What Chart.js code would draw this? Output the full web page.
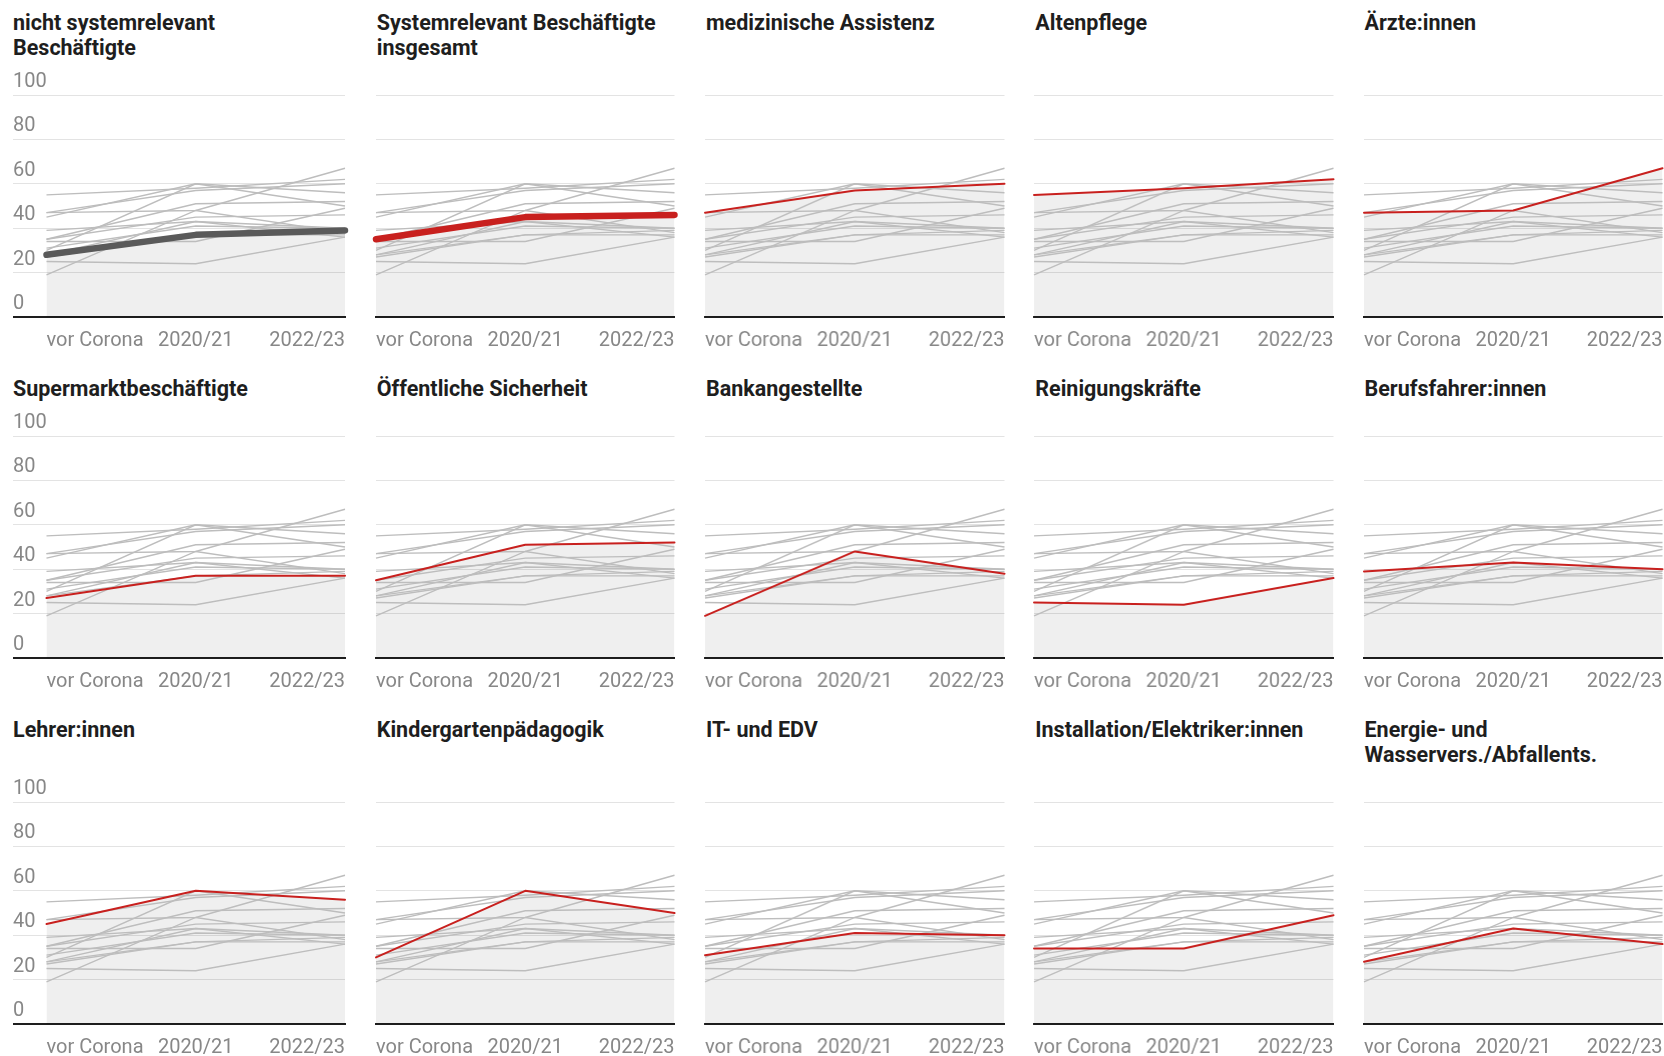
<!DOCTYPE html>
<html lang="de">
<head>
<meta charset="utf-8">
<script src="https://cdn.jsdelivr.net/npm/chart.js@4.4.1/dist/chart.umd.min.js"></script>
<style>
html,body{margin:0;padding:0;background:#fff;overflow:hidden;width:1664px;height:1056px;}
.title{position:absolute;font-family:Roboto,'Noto Sans',sans-serif;font-weight:700;font-size:21.5px;line-height:25px;color:#1e1e1e;white-space:nowrap;}
.box{position:absolute;}
</style>
</head>
<body>
<script>
// ---- data ----
const xLabels = ['vor Corona', '2020/21', '2022/23'];
const yTicks = [0, 20, 40, 60, 80, 100];

const panelTitles = [
  ['nicht systemrelevant', 'Beschäftigte'],
  ['Systemrelevant Beschäftigte', 'insgesamt'],
  ['medizinische Assistenz'],
  ['Altenpflege'],
  ['Ärzte:innen'],
  ['Supermarktbeschäftigte'],
  ['Öffentliche Sicherheit'],
  ['Bankangestellte'],
  ['Reinigungskräfte'],
  ['Berufsfahrer:innen'],
  ['Lehrer:innen'],
  ['Kindergartenpädagogik'],
  ['IT- und EDV'],
  ['Installation/Elektriker:innen'],
  ['Energie- und', 'Wasservers./Abfallents.']
];

const nichtSystemrelevant   = [28, 37, 39];
const systemrelevantGesamt  = [35, 45, 46];
const medAssistenz          = [47, 57, 60];
const altenpflege           = [55, 58, 62];
const aerzte                = [47, 48, 67];
const supermarkt            = [27, 37, 37];
const oeffSicherheit        = [35, 51, 52];
const bankangestellte       = [19, 48, 38];
const reinigung             = [25, 24, 36];
const berufsfahrer          = [39, 43, 40];
const lehrer                = [45, 60, 56];
const kindergarten          = [30, 60, 50];
const itEdv                 = [31, 41, 40];
const installation          = [34, 34, 49];
const energieWasser         = [28, 43, 36];

const seriesList = [nichtSystemrelevant, systemrelevantGesamt, medAssistenz, altenpflege, aerzte,
  supermarkt, oeffSicherheit, bankangestellte, reinigung, berufsfahrer,
  lehrer, kindergarten, itEdv, installation, energieWasser];

// ---- layout / style ----
const COL_LEFT0 = 46.5, COL_STEP = 329.25, DATA_W = 298.5, YLABEL_LEFT = 13;
const ROW_GRID_TOP = [95, 436, 802];
const PLOT_H = 222, TOP_PAD = 30, XAXIS_H = 47, SIDE_PAD = 4;
const RED = '#c8201e', DARK = '#5a5a5a', GRAY = '#bdbdbd';
const TICK_COLOR = '#878787';
const TICK_SIZE = 20;

Chart.defaults.font.family = 'Roboto';

function pts(arr) { return arr.map((v, k) => ({x: k, y: v})); }

const rowLines = [0, 1, 2].map(r => Math.max(...panelTitles.slice(r * 5, r * 5 + 5).map(t => t.length)));

seriesList.forEach((vals, i) => {
  const row = Math.floor(i / 5), col = i % 5;
  const dataLeft = COL_LEFT0 + col * COL_STEP;
  const gridTop = ROW_GRID_TOP[row];

  // title
  const t = document.createElement('div');
  t.className = 'title';
  t.style.left = (col === 0 ? YLABEL_LEFT : dataLeft + 1) + 'px';
  t.style.top = (gridTop - 35 - 25 * rowLines[row]) + 'px';
  t.innerHTML = panelTitles[i].join('<br>');
  document.body.appendChild(t);

  // canvas box
  let boxLeft, boxW, padL, xMin;
  if (col === 0) {
    boxLeft = YLABEL_LEFT;
    boxW = dataLeft + DATA_W + SIDE_PAD - YLABEL_LEFT;
    padL = 0;
    xMin = -(dataLeft - YLABEL_LEFT) / (DATA_W / 2);
  } else {
    boxLeft = dataLeft - SIDE_PAD;
    boxW = DATA_W + 2 * SIDE_PAD;
    padL = SIDE_PAD;
    xMin = 0;
  }
  const box = document.createElement('div');
  box.className = 'box';
  box.style.left = boxLeft + 'px';
  box.style.top = (gridTop - TOP_PAD) + 'px';
  box.style.width = boxW + 'px';
  box.style.height = (TOP_PAD + PLOT_H + XAXIS_H) + 'px';
  const cv = document.createElement('canvas');
  box.appendChild(cv);
  document.body.appendChild(box);

  const hlColor = i === 0 ? DARK : RED;
  const hlWidth = i < 2 ? 6.5 : 2;

  const datasets = [];
  datasets.push({
    data: pts(vals), borderColor: hlColor, borderWidth: hlWidth,
    borderCapStyle: 'round', borderJoinStyle: 'round',
    fill: false, pointRadius: 0, tension: 0, clip: false
  });
  seriesList.forEach((other, j) => {
    if (j === i) return;
    datasets.push({
      data: pts(other), borderColor: GRAY, borderWidth: 1.4,
      fill: false, pointRadius: 0, tension: 0, clip: false
    });
  });
  datasets.push({
    data: pts(vals), borderColor: 'rgba(0,0,0,0)', borderWidth: 0,
    backgroundColor: 'rgba(0,0,0,0.062)', fill: 'origin', pointRadius: 0, tension: 0
  });

  new Chart(cv, {
    type: 'line',
    data: {datasets},
    options: {
      responsive: true, maintainAspectRatio: false, animation: false, events: [],
      layout: {padding: {top: TOP_PAD, left: padL, right: SIDE_PAD, bottom: 0}},
      plugins: {legend: {display: false}, tooltip: {enabled: false}, title: {display: false}},
      scales: {
        x: {
          type: 'linear', min: xMin, max: 2,
          afterBuildTicks: s => { s.ticks = xLabels.map((_, k) => ({value: k})); },
          afterFit: s => { s.height = XAXIS_H; },
          grid: {display: true, color: 'rgba(0,0,0,0)', drawTicks: true, tickLength: 12},
          border: {display: true, color: '#1e1e1e', width: 2},
          ticks: {
            align: 'inner', padding: 0, maxRotation: 0, autoSkip: false,
            color: TICK_COLOR, font: {family: 'Roboto', size: TICK_SIZE},
            callback: v => xLabels[v]
          }
        },
        y: {
          min: 0, max: 100,
          afterBuildTicks: s => { s.ticks = yTicks.map(v => ({value: v})); },
          grid: {color: '#e3e3e3', lineWidth: 1, drawTicks: false},
          border: {display: false},
          ticks: {
            display: col === 0, mirror: true, padding: 0, labelOffset: -13,
            color: TICK_COLOR, font: {family: 'Roboto', size: TICK_SIZE}
          }
        }
      }
    }
  });
});
</script>
</body>
</html>
